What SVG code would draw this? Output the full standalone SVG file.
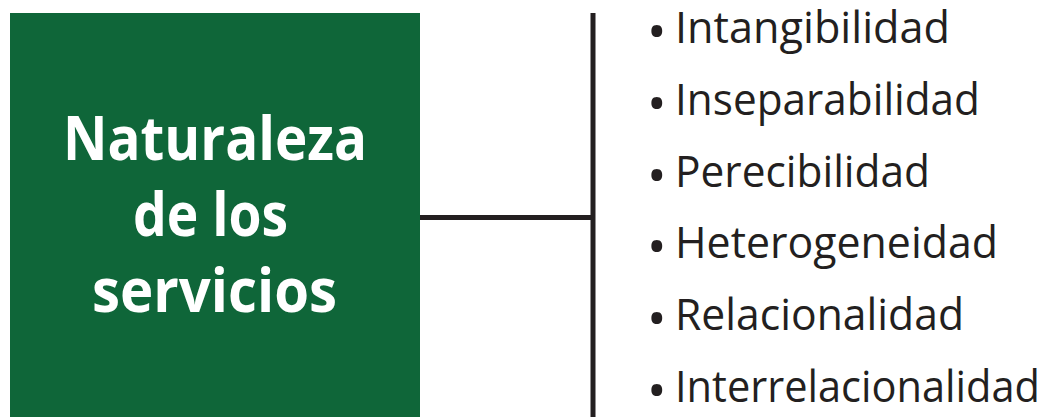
<svg xmlns="http://www.w3.org/2000/svg" width="1051" height="417" viewBox="0 0 1051 417">
<style>
.title{font-family:"Open Sans","Liberation Sans",sans-serif;font-weight:700;font-size:60px;fill:#ffffff}
.item{font-family:"Open Sans","Liberation Sans",sans-serif;font-size:44px;fill:#231f20}
.bullet{font-family:"Open Sans","Liberation Sans",sans-serif;font-size:52px;fill:#231f20}
.conn{stroke:#231f20;stroke-width:5;fill:none}
</style>
<rect width="1051" height="417" fill="#ffffff"/>
<g id="node-naturaleza">
<rect x="10" y="13" width="410" height="404" fill="#0f6639"/>
<text class="title" x="63" y="160" textLength="304" lengthAdjust="spacingAndGlyphs">Naturaleza</text>
<text class="title" x="133" y="236" textLength="155" lengthAdjust="spacingAndGlyphs">de los</text>
<text class="title" x="92" y="312" textLength="245" lengthAdjust="spacingAndGlyphs">servicios</text>
</g>
<g id="connectors">
<line class="conn" x1="420" y1="217.5" x2="593" y2="217.5"/>
<line class="conn" x1="593" y1="13" x2="593" y2="417"/>
</g>
<g id="node-lista">
<text class="bullet" x="647" y="50.3">•</text>
<text class="item" x="675" y="43.3" textLength="275" lengthAdjust="spacingAndGlyphs">Intangibilidad</text>
<text class="bullet" x="647" y="122">•</text>
<text class="item" x="675" y="115" textLength="305" lengthAdjust="spacingAndGlyphs">Inseparabilidad</text>
<text class="bullet" x="647" y="193.7">•</text>
<text class="item" x="675" y="186.7" textLength="255" lengthAdjust="spacingAndGlyphs">Perecibilidad</text>
<text class="bullet" x="647" y="265.4">•</text>
<text class="item" x="675" y="258.4" textLength="323" lengthAdjust="spacingAndGlyphs">Heterogeneidad</text>
<text class="bullet" x="647" y="337">•</text>
<text class="item" x="675" y="330" textLength="289" lengthAdjust="spacingAndGlyphs">Relacionalidad</text>
<text class="bullet" x="647" y="408.7">•</text>
<text class="item" x="675" y="401.7" textLength="365" lengthAdjust="spacingAndGlyphs">Interrelacionalidad</text>
</g>
</svg>
